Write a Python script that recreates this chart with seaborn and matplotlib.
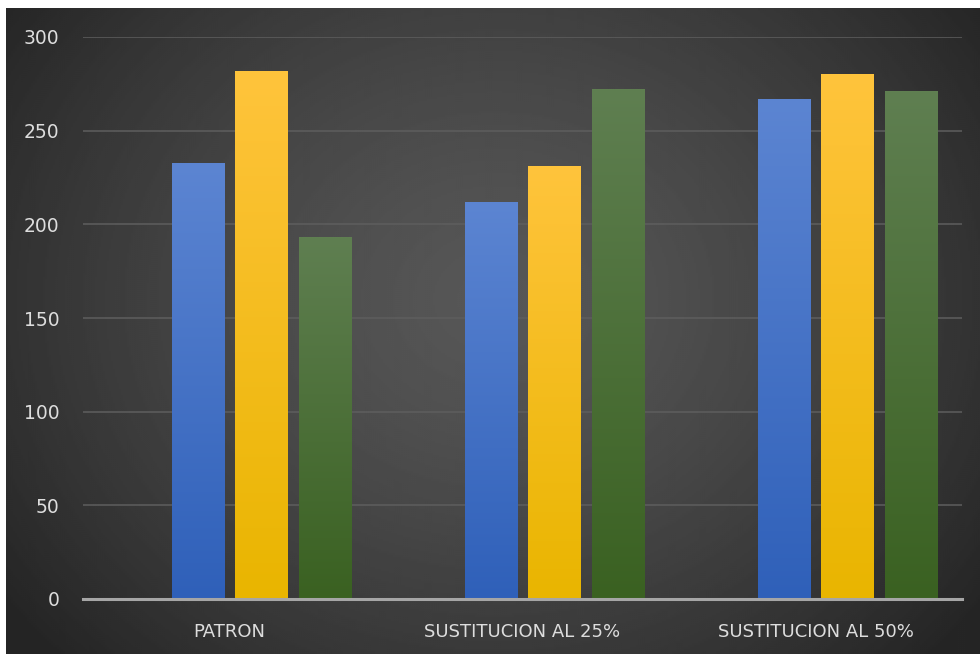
import numpy as np
import pandas as pd
import matplotlib
matplotlib.use("Agg")
import matplotlib.pyplot as plt
from matplotlib.colors import LinearSegmentedColormap, to_rgb
import seaborn as sns

# ---- data ----
categories = ["PATRON", "SUSTITUCION AL 25%", "SUSTITUCION AL 50%"]
series_names = ["Serie 1", "Serie 2", "Serie 3"]
serie1 = [233, 212, 267]
serie2 = [282, 231, 280]
serie3 = [193, 272, 271]
yticks = [0, 50, 100, 150, 200, 250, 300]

rows = []
for name, vals in zip(series_names, [serie1, serie2, serie3]):
    for c, v in zip(categories, vals):
        rows.append({"cat": c, "serie": name, "val": v})
df = pd.DataFrame(rows)

hue_order = [" "] + series_names  # first (empty) series keeps the Excel offset
base_cols = {" ": "#000000", "Serie 1": "#4472C4", "Serie 2": "#FFC000", "Serie 3": "#4E7A34"}
grads = {
    "Serie 1": ("#2F60B9", "#5C85D2"),
    "Serie 2": ("#E9B500", "#FFC43C"),
    "Serie 3": ("#3A6121", "#5F7F51"),
}

sns.set_theme(style="dark")
plt.rcParams["font.family"] = ["DejaVu Sans"]

W, H = 980, 654
fig = plt.figure(figsize=(W / 100, H / 100), dpi=100, facecolor="white")

# background with radial gradient
bg = fig.add_axes([6 / W, 0, (W - 6) / W, (H - 8) / H])
bg.set_axis_off()
ny, nx = 323, 487
yy, xx = np.mgrid[0:ny, 0:nx]
cx, cy = nx * 0.50, ny * 0.45
r = np.sqrt(((xx - cx) / (nx * 0.62)) ** 2 + ((yy - cy) / (ny * 0.80)) ** 2)
r = np.clip(r, 0, 1)
v = 0.34 - (0.34 - 0.145) * r ** 1.4
bg.imshow(v, cmap="gray", vmin=0, vmax=1, aspect="auto", interpolation="bilinear")

ax = fig.add_axes([83 / W, (H - 599) / H, (962 - 83) / W, (599 - 37) / H])
ax.patch.set_alpha(0)

sns.barplot(data=df, x="cat", y="val", hue="serie", hue_order=hue_order,
            order=categories, palette=base_cols, width=0.867, gap=0.18,
            legend=False, ax=ax, errorbar=None, saturation=1)

col2name = {to_rgb(base_cols[n]): n for n in series_names}
bars = list(ax.patches)
for p in bars:
    fc = tuple(round(c, 4) for c in p.get_facecolor()[:3])
    name = None
    for k, n in col2name.items():
        if np.allclose(k, fc, atol=0.01):
            name = n
    if name is None:
        continue
    x0, w, h = p.get_x(), p.get_width(), p.get_height()
    cmap = LinearSegmentedColormap.from_list(name, list(grads[name]))
    grad = np.linspace(0, 1, 256).reshape(-1, 1)
    im = ax.imshow(grad, extent=[x0, x0 + w, 0, h], origin="lower", aspect="auto",
                   cmap=cmap, zorder=p.get_zorder() + 0.1, interpolation="bilinear")
    im.set_clip_path(p)
    p.set_edgecolor("#2a2a2a")
    p.set_linewidth(0.6)

ax.set_xlim(-0.5, len(categories) - 0.5)
ax.set_ylim(0, 300)
ax.set_yticks(yticks)
ax.set_yticklabels([str(t) for t in yticks])
ax.grid(axis="y", color="#5E5E5E", linewidth=1.1)
ax.grid(axis="x", visible=False)
ax.set_axisbelow(True)
for s in ["left", "right", "top"]:
    ax.spines[s].set_visible(False)
ax.spines["bottom"].set_color("#A6A6A6")
ax.spines["bottom"].set_linewidth(2.2)
ax.spines["bottom"].set_zorder(5)
ax.tick_params(axis="y", length=0, pad=17, labelsize=13.5, labelcolor="#DDDDDD")
ax.tick_params(axis="x", length=0, pad=17, labelsize=13, labelcolor="#DDDDDD")
ax.set_xlabel("")
ax.set_ylabel("")

fig.savefig("out.png", dpi=100, facecolor="white")
